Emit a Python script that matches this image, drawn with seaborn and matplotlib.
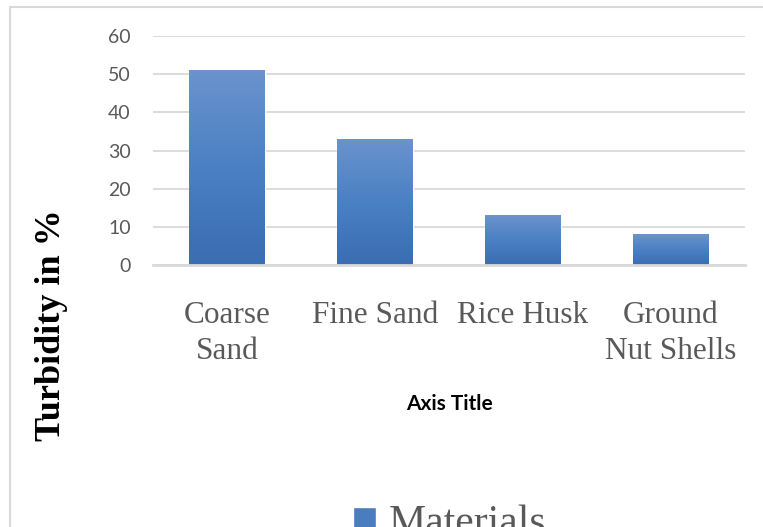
import numpy as np
import pandas as pd
import matplotlib
matplotlib.use("Agg")
import matplotlib.pyplot as plt
from matplotlib.colors import LinearSegmentedColormap
from matplotlib.patches import Rectangle
import seaborn as sns

# Data
materials = ["Coarse\nSand", "Fine Sand", "Rice Husk", "Ground\nNut Shells"]
turbidity = [51, 33, 13, 8]
y_ticks = [0, 10, 20, 30, 40, 50, 60]
series_name = "Materials"

df = pd.DataFrame({"material": materials, "turbidity": turbidity})

sns.set_theme(style="white")
plt.rcParams["font.family"] = ["Lato", "DejaVu Sans"]

fig = plt.figure(figsize=(7.63, 5.27), dpi=100)
ax = fig.add_axes([153 / 763, 1 - 265 / 527, 592 / 763, 229 / 527])

sns.barplot(data=df, x="material", y="turbidity", color="#4a7cc0",
            width=0.51, ax=ax, saturation=1)

# vertical gradient fill on each bar (lighter on top)
grad = LinearSegmentedColormap.from_list("bar", ["#3a6db2", "#4a80c4", "#6b93cc"])
for p in list(ax.patches):
    x0, w, h = p.get_x(), p.get_width(), p.get_height()
    img = ax.imshow(np.linspace(0, 1, 256).reshape(-1, 1), cmap=grad,
                    extent=[x0, x0 + w, 0, h], origin="lower",
                    aspect="auto", zorder=p.get_zorder() + 0.1)
    img.set_clip_path(p)

ax.set_xlim(-0.5, len(materials) - 0.5)
ax.set_ylim(0, 60)
ax.set_yticks(y_ticks)
ax.set_ylabel("")

ax.yaxis.grid(True, color="#d9d9d9", linewidth=1.3)
ax.set_axisbelow(True)
for s in ["top", "right", "left"]:
    ax.spines[s].set_visible(False)
ax.spines["bottom"].set_color("#d9d9d9")
ax.spines["bottom"].set_linewidth(2)

ax.tick_params(axis="y", length=0, pad=16, labelsize=14, labelcolor="#595959")
ax.tick_params(axis="x", length=0, pad=26, labelcolor="#595959")
for lab in ax.get_xticklabels():
    lab.set_family("Liberation Serif")
    lab.set_fontsize(22.5)
    lab.set_linespacing(1.3)

ax.set_xlabel("Axis Title", fontsize=15, fontweight="bold", color="black")
ax.xaxis.set_label_coords(0.5, (265 - 404) / 229)
ax.xaxis.label.set_va("center")

fig.text(52 / 763, 1 - 325 / 527, "Turbidity in %", rotation=90,
         ha="center", va="center", fontsize=26, fontweight="bold",
         family="Liberation Serif", color="black")

leg = fig.legend([ax.patches[0]], [series_name], loc="upper center",
                 bbox_to_anchor=(450 / 763, 1 - 484 / 527), frameon=False,
                 prop={"family": "Liberation Serif", "size": 30},
                 handlelength=0.55, handleheight=0.55, handletextpad=0.3,
                 borderpad=0)
for t in leg.get_texts():
    t.set_color("#595959")

# chart area border
fig.add_artist(Rectangle((10 / 763, -0.1), 1.2, 1 - 7 / 527 + 0.1,
                         transform=fig.transFigure, fill=False,
                         edgecolor="#d9d9d9", linewidth=1.5))

fig.savefig("out.png", dpi=100)
